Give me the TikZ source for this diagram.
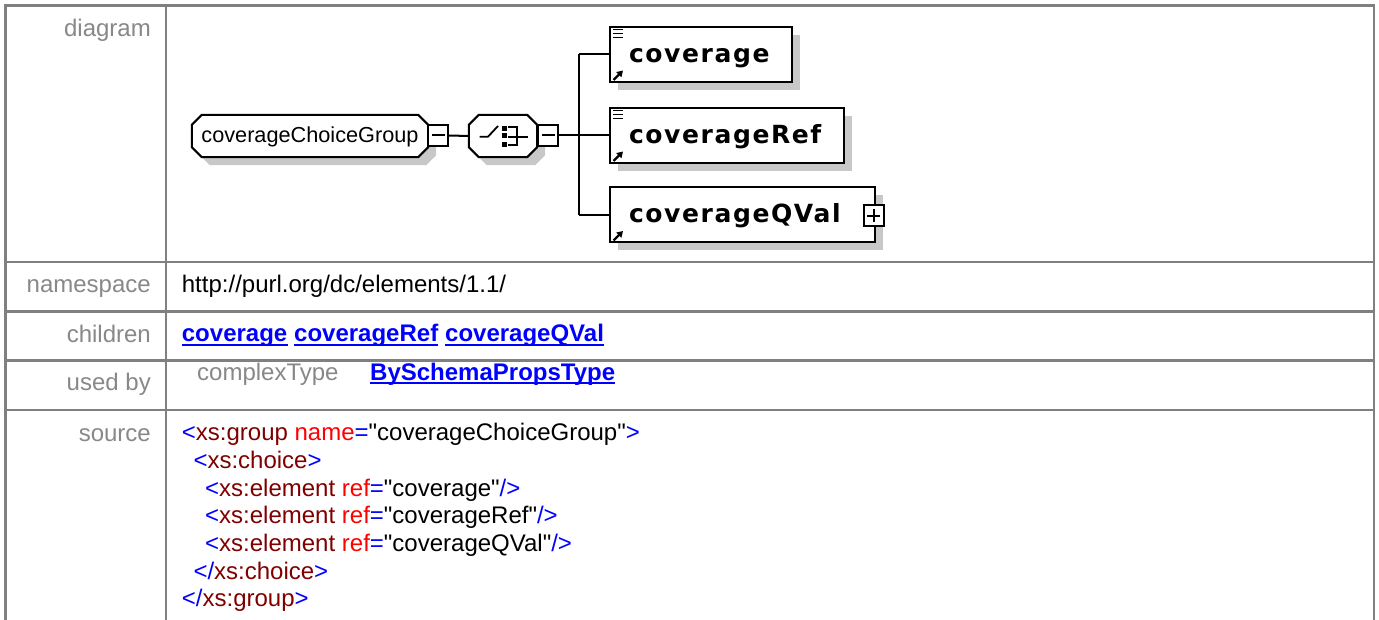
\documentclass[tikz,border=0pt]{standalone}
\usepackage{fontspec}
\setmainfont{Liberation Sans}[Ligatures=TeXOff]
\newfontfamily\elemfont[LetterSpace=6.4]{DejaVu Sans}
\usetikzlibrary{positioning,shadows,arrows.meta,backgrounds}

\definecolor{linegray}{HTML}{808080}
\definecolor{labelgray}{HTML}{888888}
\definecolor{shadowgray}{HTML}{C8C8C8}
\definecolor{linkblue}{HTML}{0000FF}
\definecolor{xmlred}{HTML}{FF0000}
\definecolor{xmldark}{HTML}{800000}

\newcommand{\xb}[1]{\textcolor{linkblue}{#1}}
\newcommand{\xr}[1]{\textcolor{xmlred}{#1}}
\newcommand{\xd}[1]{\textcolor{xmldark}{#1}}
% восьмиугольник вокруг узла #1, сдвинутый на (#2,#3)
\newcommand{\octpath}[3]{([shift={(10+#2,#3)}]#1.north west) -- ([shift={(-10+#2,#3)}]#1.north east)
    -- ([shift={(#2,10+#3)}]#1.north east) -- ([shift={(#2,-10+#3)}]#1.south east)
    -- ([shift={(-10+#2,#3)}]#1.south east) -- ([shift={(10+#2,#3)}]#1.south west)
    -- ([shift={(#2,-10+#3)}]#1.south west) -- ([shift={(#2,10+#3)}]#1.north west) -- cycle}

\begin{document}
\begin{tikzpicture}[x=1pt, y=-1pt,
    tbl/.style={linegray, line width=2.5pt},
    lbl/.style={anchor=base east, inner sep=0pt, text=labelgray, font=\fontsize{24}{28}\selectfont},
    txt/.style={anchor=base west, inner sep=0pt, font=\fontsize{24}{28}\selectfont},
    lnk/.style={txt, text=linkblue, font=\fontsize{24}{28}\selectfont\bfseries},
    dline/.style={line width=2pt},
    shad/.style={drop shadow={shadow xshift=8pt, shadow yshift=-8pt, fill=shadowgray, opacity=1}},
    octa/.style={inner sep=0pt, minimum height=42pt},
    elem/.style={draw, dline, fill=white, anchor=west, minimum height=55pt, inner xsep=19pt,
        align=left, text height=18pt, text depth=2pt, font=\elemfont\bfseries\fontsize{25}{28}\selectfont, shad},
    pm/.style={draw, dline, fill=white, minimum width=20pt, minimum height=21pt, inner sep=0pt}]

    \useasboundingbox (0,0) rectangle (1379,620);

    % Таблица
    \draw[tbl] (5.5,620) -- (5.5,5.5) -- (1374,5.5) -- (1374,620);
    \draw[tbl] (166,5.5) -- (166,620);
    \foreach \ry in {262,311.5,360.5,410}
        \draw[tbl] (5.5,\ry) -- (1374,\ry);

    % Подписи строк
    \node[lbl] (ldia) at (151,36.5) {diagram};
    \node[lbl] (lns) at (151,293) {namespace};
    \node[lbl] (lch) at (151,343) {children};
    \node[lbl] (lub) at (151,390.5) {used by};
    \node[lbl] (lsrc) at (151,441) {source};

    % Группа и выбор
    \node[octa, minimum width=236pt, text height=16pt, text depth=2pt,
        font=\fontsize{21.7}{24}\selectfont] (grp) at (310,136) {coverageChoiceGroup};
    \node[octa, minimum width=68pt] (ch) at (503,136) {};
    \begin{scope}[on background layer]
        \fill[white] (0,0) rectangle (1379,620);
        \foreach \o in {grp,ch} {
            \fill[shadowgray] \octpath{\o}{8}{8};
            \filldraw[fill=white, dline] \octpath{\o}{0}{0};
        }
    \end{scope}
    \node[pm] (gm) at (438,135.5) {};
    \node[pm] (chm) at (548,135.5) {};
    \coordinate (trunk) at (579,135.5);

    \begin{scope}[shift={(ch.center)}, line width=1.8pt]
        \draw (-23.5,0.7) -- (-15,0.7) -- (-5,-10);
        \foreach \sy in {-10,-3,5.7}
            \fill (-1.3,\sy) rectangle (3.7,\sy+5);
        \draw (5,-9.3) -- (14,-9.3) -- (14,9) -- (5,9);
        \draw (5,0.7) -- (25,0.7);
    \end{scope}

    % Элементы
    \node[elem, text width=144pt] (cov) at (609,54.5) {coverage};
    \node[elem, text width=196pt] (crf) at (609,135.5) {coverageRef};
    \node[elem, text width=227pt] (cqv) at (609,215) {coverageQVal};
    \node[pm] (qp) at (873.5,216) {};

    % Значки
    \foreach \e in {gm,chm,qp}
        \draw[dline] ([xshift=-6.5pt]\e.center) -- ([xshift=6.5pt]\e.center);
    \draw[dline] ([yshift=-6.5pt]qp.center) -- ([yshift=6.5pt]qp.center);
    \foreach \e in {cov,crf}
        \foreach \dy in {3.5,7.5,11.5}
            \draw[line width=1.9pt] ([shift={(4,\dy)}]\e.north west) -- ([shift={(14,\dy)}]\e.north west);
    \foreach \e in {cov,crf,cqv}
        \draw[line width=2.2pt, -{Triangle[length=6pt,width=7pt]}]
            ([shift={(4.5,-3)}]\e.south west) -- ([shift={(14,-12.5)}]\e.south west);

    % Связи
    \draw[dline] (gm.east) -- (ch.west);
    \draw[dline] (chm.east) -- (trunk);
    \draw[dline] (trunk |- cov.west) -- (trunk |- cqv.west);
    \foreach \e in {cov,crf,cqv}
        \draw[dline] (trunk |- \e.west) -- (\e.west);

    % namespace, children, used by
    \node[txt] (ns) at (181.7,293) {http://purl.org/dc/elements/1.1/};
    \node[lnk] (lc) at (181.7,341.7) {coverage};
    \node[lnk, base right=6.5pt of lc] (lr) {coverageRef};
    \node[lnk, base right=6.5pt of lr] (lq) {coverageQVal};
    \node[txt, text=labelgray] (ut) at (197,380) {complexType};
    \node[lnk] (ub) at (370,380) {BySchemaPropsType};
    \foreach \n in {lc,lr,lq,ub}
        \draw[linkblue, line width=2pt] ([yshift=-3pt]\n.base west) -- ([yshift=-3pt]\n.base east);

    % source
    \node[txt] (s1) at (181.7,440.7) {\xb{<}\xd{xs:group} \xr{name}\xb{=}"coverageChoiceGroup"\xb{>}};
    \node[txt] (s2) at (193.3,468.4) {\xb{<}\xd{xs:choice}\xb{>}};
    \node[txt] (s3) at (205,496.1) {\xb{<}\xd{xs:element} \xr{ref}\xb{=}"coverage"\xb{/>}};
    \node[txt] (s4) at (205,523.8) {\xb{<}\xd{xs:element} \xr{ref}\xb{=}"coverageRef"\xb{/>}};
    \node[txt] (s5) at (205,551.5) {\xb{<}\xd{xs:element} \xr{ref}\xb{=}"coverageQVal"\xb{/>}};
    \node[txt] (s6) at (193.3,579.2) {\xb{</}\xd{xs:choice}\xb{>}};
    \node[txt] (s7) at (181.7,606.9) {\xb{</}\xd{xs:group}\xb{>}};
\end{tikzpicture}
\end{document}
